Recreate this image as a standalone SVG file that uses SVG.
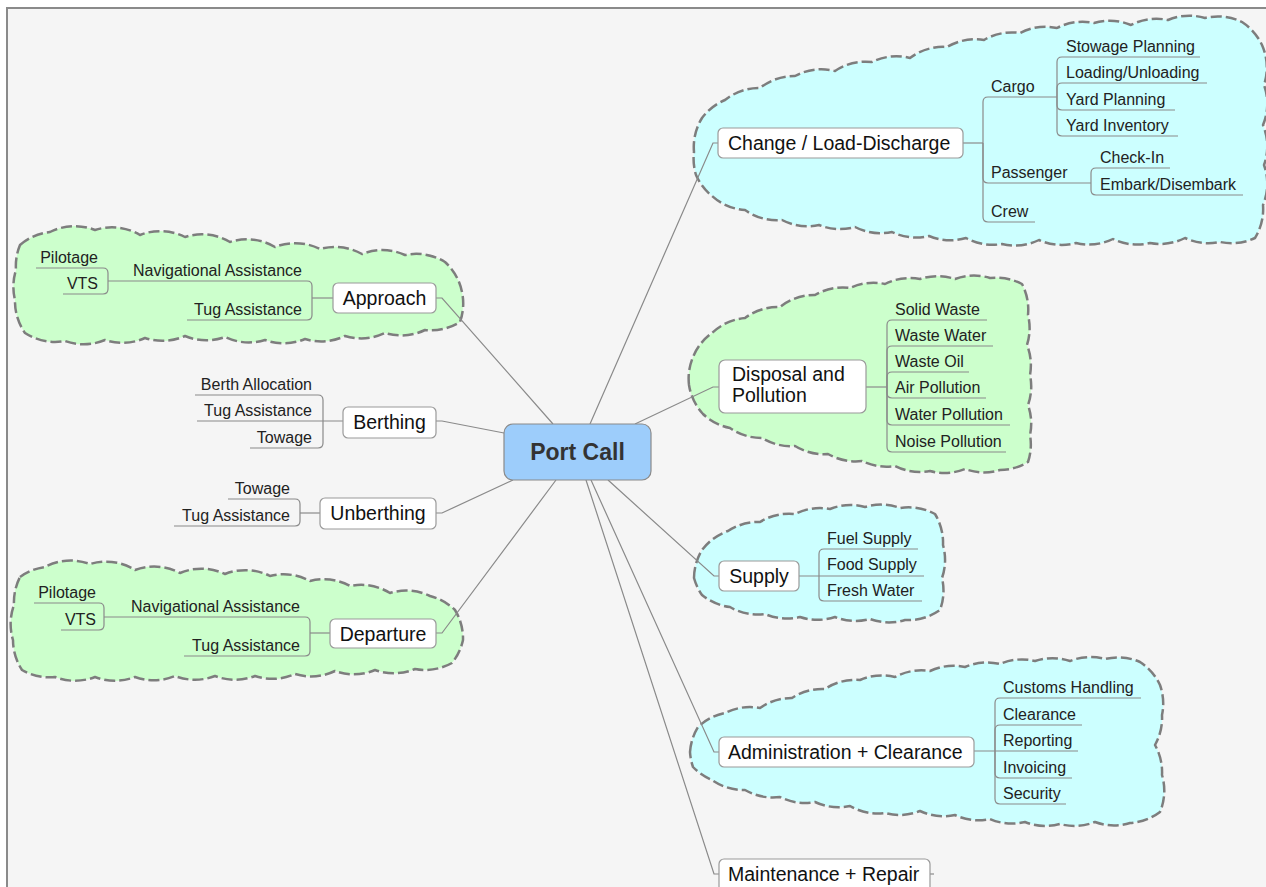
<svg xmlns="http://www.w3.org/2000/svg" width="1266" height="887" viewBox="0 0 1266 887">
  <style>
    .cloud { stroke: #7d7d7d; stroke-width: 2.5; stroke-dasharray: 11 4; stroke-linejoin: round; }
    .green { fill: #ccffcc; }
    .cyan { fill: #ccffff; }
    .link { fill: none; stroke: #8a8a8a; stroke-width: 1.2; }
    .box { fill: #ffffff; stroke: #9a9a9a; stroke-width: 1.2; }
    .root-box { fill: #9dcdfb; stroke: #8a8a8a; stroke-width: 1.2; }
    .main { font-family: "Liberation Sans", Arial, sans-serif; font-size: 19.5px; fill: #111; }
    .mid { text-anchor: middle; }
    .sub { font-family: "Liberation Sans", Arial, sans-serif; font-size: 16px; fill: #222; }
    .left { text-anchor: end; }
    .root { font-family: "Liberation Sans", Arial, sans-serif; font-size: 23px; font-weight: bold; fill: #333; text-anchor: middle; }
  </style>

  <!-- canvas and frame -->
  <rect x="0" y="0" width="1266" height="887" fill="#ffffff"/>
  <rect x="7" y="8" width="1270" height="890" fill="#f5f5f5" stroke="#8a8a8a" stroke-width="2"/>

  <!-- boundary clouds -->
  <g id="boundaries">
    <path id="cloud-approach" class="cloud green" d="M20,245 A55,55 0 0 1 50,232 A55,55 0 0 1 95,230 A55,55 0 0 1 140,235 A55,55 0 0 1 185,237 A55,55 0 0 1 230,242 A55,55 0 0 1 275,247 A55,55 0 0 1 320,249 A55,55 0 0 1 362,254 A55,55 0 0 1 405,255 A55,55 0 0 1 445,262 A55,55 0 0 1 462,292 A55,55 0 0 1 460,322 A55,55 0 0 1 425,330 A55,55 0 0 1 385,333 A55,55 0 0 1 345,336 A55,55 0 0 1 305,339 A55,55 0 0 1 265,340 A55,55 0 0 1 225,337 A55,55 0 0 1 185,336 A55,55 0 0 1 145,338 A55,55 0 0 1 105,340 A55,55 0 0 1 65,341 A55,55 0 0 1 25,333 A55,55 0 0 1 15,300 A55,55 0 0 1 16,270 A55,55 0 0 1 20,245 Z"/>
    <path id="cloud-departure" class="cloud green" d="M20,577 A55,55 0 0 1 45,567 A55,55 0 0 1 90,564 A55,55 0 0 1 135,570 A55,55 0 0 1 180,573 A55,55 0 0 1 225,574 A55,55 0 0 1 270,576 A55,55 0 0 1 310,581 A55,55 0 0 1 350,586 A55,55 0 0 1 390,593 A55,55 0 0 1 430,596 A55,55 0 0 1 455,610 A55,55 0 0 1 463,640 A55,55 0 0 1 452,663 A55,55 0 0 1 415,669 A55,55 0 0 1 375,670 A55,55 0 0 1 335,671 A55,55 0 0 1 295,674 A55,55 0 0 1 255,676 A55,55 0 0 1 215,676 A55,55 0 0 1 175,676 A55,55 0 0 1 135,677 A55,55 0 0 1 95,677 A55,55 0 0 1 55,677 A55,55 0 0 1 22,670 A55,55 0 0 1 13,640 A55,55 0 0 1 14,605 A55,55 0 0 1 20,577 Z"/>
    <path id="cloud-change" class="cloud cyan" d="M694,152 A55,55 0 0 1 702,118 A55,55 0 0 1 725,100 A55,55 0 0 1 760,88 A55,55 0 0 1 795,76 A55,55 0 0 1 835,71 A55,55 0 0 1 872,62 A55,55 0 0 1 910,58 A55,55 0 0 1 947,47 A55,55 0 0 1 984,40 A55,55 0 0 1 1020,33 A55,55 0 0 1 1057,28 A55,55 0 0 1 1094,23 A55,55 0 0 1 1131,25 A55,55 0 0 1 1168,20 A55,55 0 0 1 1205,18 A55,55 0 0 1 1242,22 A55,55 0 0 1 1262,45 A55,55 0 0 1 1264,85 A55,55 0 0 1 1263,125 A55,55 0 0 1 1264,165 A55,55 0 0 1 1263,205 A55,55 0 0 1 1255,238 A55,55 0 0 1 1220,242 A55,55 0 0 1 1185,238 A55,55 0 0 1 1150,243 A55,55 0 0 1 1113,239 A55,55 0 0 1 1076,243 A55,55 0 0 1 1039,240 A55,55 0 0 1 1002,244 A55,55 0 0 1 966,238 A55,55 0 0 1 929,236 A55,55 0 0 1 892,232 A55,55 0 0 1 855,227 A55,55 0 0 1 819,225 A55,55 0 0 1 782,220 A55,55 0 0 1 745,210 A55,55 0 0 1 712,196 A55,55 0 0 1 696,175 A55,55 0 0 1 694,152 Z"/>
    <path id="cloud-disposal" class="cloud green" d="M689,385 A55,55 0 0 1 693,357 A55,55 0 0 1 712,333 A55,55 0 0 1 745,318 A55,55 0 0 1 780,307 A55,55 0 0 1 815,295 A55,55 0 0 1 850,288 A55,55 0 0 1 885,284 A55,55 0 0 1 920,279 A55,55 0 0 1 955,279 A55,55 0 0 1 990,278 A55,55 0 0 1 1022,284 A55,55 0 0 1 1028,315 A55,55 0 0 1 1027,345 A55,55 0 0 1 1030,375 A55,55 0 0 1 1028,405 A55,55 0 0 1 1030,435 A55,55 0 0 1 1028,462 A55,55 0 0 1 1000,470 A55,55 0 0 1 965,469 A55,55 0 0 1 930,471 A55,55 0 0 1 895,466 A55,55 0 0 1 862,461 A55,55 0 0 1 828,454 A55,55 0 0 1 795,446 A55,55 0 0 1 762,438 A55,55 0 0 1 730,428 A55,55 0 0 1 703,414 A55,55 0 0 1 689,385 Z"/>
    <path id="cloud-supply" class="cloud cyan" d="M694,578 A55,55 0 0 1 702,550 A55,55 0 0 1 728,531 A55,55 0 0 1 760,522 A55,55 0 0 1 795,514 A55,55 0 0 1 830,509 A55,55 0 0 1 865,507 A55,55 0 0 1 900,508 A55,55 0 0 1 935,514 A55,55 0 0 1 943,545 A55,55 0 0 1 942,578 A55,55 0 0 1 940,610 A55,55 0 0 1 905,620 A55,55 0 0 1 870,619 A55,55 0 0 1 835,617 A55,55 0 0 1 800,617 A55,55 0 0 1 765,614 A55,55 0 0 1 730,607 A55,55 0 0 1 702,595 A55,55 0 0 1 694,578 Z"/>
    <path id="cloud-admin" class="cloud cyan" d="M690,752 A55,55 0 0 1 698,727 A55,55 0 0 1 725,713 A55,55 0 0 1 760,708 A55,55 0 0 1 792,698 A55,55 0 0 1 825,689 A55,55 0 0 1 860,680 A55,55 0 0 1 895,677 A55,55 0 0 1 930,671 A55,55 0 0 1 965,667 A55,55 0 0 1 1000,664 A55,55 0 0 1 1035,661 A55,55 0 0 1 1070,661 A55,55 0 0 1 1105,659 A55,55 0 0 1 1140,662 A55,55 0 0 1 1160,685 A55,55 0 0 1 1162,715 A55,55 0 0 1 1155,745 A55,55 0 0 1 1162,775 A55,55 0 0 1 1160,812 A55,55 0 0 1 1130,823 A55,55 0 0 1 1095,822 A55,55 0 0 1 1060,824 A55,55 0 0 1 1025,822 A55,55 0 0 1 990,819 A55,55 0 0 1 955,815 A55,55 0 0 1 920,811 A55,55 0 0 1 885,813 A55,55 0 0 1 850,806 A55,55 0 0 1 815,802 A55,55 0 0 1 780,797 A55,55 0 0 1 745,790 A55,55 0 0 1 712,780 A55,55 0 0 1 693,767 A55,55 0 0 1 690,752 Z"/>
  </g>

  <!-- connectors -->
  <g id="connectors" class="link">
    <!-- central topic to main topics -->
    <path d="M553,424L442,298H436"/>
    <path d="M504,433L442,421H436"/>
    <path d="M513,480L442,513H436"/>
    <path d="M556,480L442,633H436"/>
    <path d="M590,424L713,143H718"/>
    <path d="M635,424L713,387H719"/>
    <path d="M608,480L714,576H719"/>
    <path d="M591,480L714,752H719"/>
    <path d="M586,480L714,874H719"/>

    <!-- Change / Load-Discharge -->
    <path d="M963,143H983"/>
    <path d="M983,143V102Q983,97 988,97H1057"/>
    <path d="M983,143V178Q983,183 988,183H1091"/>
    <path d="M983,143V217Q983,222 988,222H1035"/>
    <path d="M1057,97V62Q1057,57 1062,57H1200"/>
    <path d="M1057,97V88Q1057,83 1062,83H1207"/>
    <path d="M1057,97V105Q1057,110 1062,110H1175"/>
    <path d="M1057,97V131Q1057,136 1062,136H1178"/>
    <path d="M1091,183V173Q1091,168 1096,168H1170"/>
    <path d="M1091,183V190Q1091,195 1096,195H1243"/>

    <!-- Disposal and Pollution -->
    <path d="M866,387H887"/>
    <path d="M887,387V325Q887,320 892,320H987"/>
    <path d="M887,387V351Q887,346 892,346H993"/>
    <path d="M887,387V377Q887,372 892,372H969"/>
    <path d="M887,387V393Q887,398 892,398H986"/>
    <path d="M887,387V420Q887,425 892,425H1010"/>
    <path d="M887,387V447Q887,452 892,452H1006"/>

    <!-- Supply -->
    <path d="M799,576H924"/>
    <path d="M819,576V554Q819,549 824,549H918"/>
    <path d="M819,576V596Q819,601 824,601H922"/>

    <!-- Administration + Clearance -->
    <path d="M974,751H1078"/>
    <path d="M995,751V703Q995,698 1000,698H1141"/>
    <path d="M995,751V730Q995,725 1000,725H1082"/>
    <path d="M995,751V773Q995,778 1000,778H1072"/>
    <path d="M995,751V799Q995,804 1000,804H1066"/>

    <!-- Maintenance + Repair -->
    <path d="M930,874H934"/>

    <!-- Approach -->
    <path d="M333,298H312"/>
    <path d="M312,298V286Q312,281 307,281H108"/>
    <path d="M312,298V315Q312,320 307,320H187"/>
    <path d="M108,281V273Q108,268 103,268H36"/>
    <path d="M108,281V289Q108,294 103,294H63"/>

    <!-- Berthing -->
    <path d="M343,421H197"/>
    <path d="M323,421V400Q323,395 318,395H195"/>
    <path d="M323,421V443Q323,448 318,448H250"/>

    <!-- Unberthing -->
    <path d="M320,513H300"/>
    <path d="M300,513V504Q300,499 295,499H228"/>
    <path d="M300,513V521Q300,526 295,526H174"/>

    <!-- Departure -->
    <path d="M330,633H310"/>
    <path d="M310,633V622Q310,617 305,617H104"/>
    <path d="M310,633V651Q310,656 305,656H184"/>
    <path d="M104,617V608Q104,603 99,603H34"/>
    <path d="M104,617V625Q104,630 99,630H61"/>
  </g>

  <!-- central topic -->
  <g id="port-call">
    <rect class="root-box" x="504" y="424" width="147" height="56" rx="9"/>
    <text class="root" x="577.5" y="460">Port Call</text>
  </g>

  <!-- main topics -->
  <g id="change">
    <rect class="box" x="718" y="128" width="245" height="30" rx="5"/>
    <text class="main" x="728" y="150">Change / Load-Discharge</text>
  </g>
  <g id="disposal">
    <rect class="box" x="719" y="360" width="147" height="53" rx="6"/>
    <text class="main" x="732" y="381">Disposal and</text>
    <text class="main" x="732" y="402">Pollution</text>
  </g>
  <g id="supply">
    <rect class="box" x="719" y="561" width="80" height="30" rx="5"/>
    <text class="main mid" x="759" y="583">Supply</text>
  </g>
  <g id="administration">
    <rect class="box" x="719" y="737" width="255" height="30" rx="5"/>
    <text class="main" x="728" y="759">Administration + Clearance</text>
  </g>
  <g id="maintenance">
    <rect class="box" x="719" y="859" width="211" height="34" rx="5"/>
    <text class="main" x="728" y="881">Maintenance + Repair</text>
  </g>
  <g id="approach">
    <rect class="box" x="333" y="283" width="103" height="30" rx="5"/>
    <text class="main mid" x="384.5" y="305">Approach</text>
  </g>
  <g id="berthing">
    <rect class="box" x="343" y="407" width="93" height="31" rx="5"/>
    <text class="main mid" x="389.5" y="429">Berthing</text>
  </g>
  <g id="unberthing">
    <rect class="box" x="320" y="498" width="116" height="31" rx="5"/>
    <text class="main mid" x="378" y="520">Unberthing</text>
  </g>
  <g id="departure">
    <rect class="box" x="330" y="619" width="106" height="29" rx="5"/>
    <text class="main mid" x="383" y="641">Departure</text>
  </g>

  <!-- subtopics: Change / Load-Discharge -->
  <g id="cargo"><text class="sub" x="991" y="92">Cargo</text></g>
  <g id="passenger"><text class="sub" x="991" y="178">Passenger</text></g>
  <g id="crew"><text class="sub" x="991" y="217">Crew</text></g>
  <g id="stowage-planning"><text class="sub" x="1066" y="52">Stowage Planning</text></g>
  <g id="loading-unloading"><text class="sub" x="1066" y="78">Loading/Unloading</text></g>
  <g id="yard-planning"><text class="sub" x="1066" y="105">Yard Planning</text></g>
  <g id="yard-inventory"><text class="sub" x="1066" y="131">Yard Inventory</text></g>
  <g id="check-in"><text class="sub" x="1100" y="163">Check-In</text></g>
  <g id="embark-disembark"><text class="sub" x="1100" y="190">Embark/Disembark</text></g>

  <!-- subtopics: Disposal and Pollution -->
  <g id="solid-waste"><text class="sub" x="895" y="315">Solid Waste</text></g>
  <g id="waste-water"><text class="sub" x="895" y="341">Waste Water</text></g>
  <g id="waste-oil"><text class="sub" x="895" y="367">Waste Oil</text></g>
  <g id="air-pollution"><text class="sub" x="895" y="393">Air Pollution</text></g>
  <g id="water-pollution"><text class="sub" x="895" y="420">Water Pollution</text></g>
  <g id="noise-pollution"><text class="sub" x="895" y="447">Noise Pollution</text></g>

  <!-- subtopics: Supply -->
  <g id="fuel-supply"><text class="sub" x="827" y="544">Fuel Supply</text></g>
  <g id="food-supply"><text class="sub" x="827" y="570">Food Supply</text></g>
  <g id="fresh-water"><text class="sub" x="827" y="596">Fresh Water</text></g>

  <!-- subtopics: Administration + Clearance -->
  <g id="customs-handling"><text class="sub" x="1003" y="693">Customs Handling</text></g>
  <g id="clearance"><text class="sub" x="1003" y="720">Clearance</text></g>
  <g id="reporting"><text class="sub" x="1003" y="746">Reporting</text></g>
  <g id="invoicing"><text class="sub" x="1003" y="773">Invoicing</text></g>
  <g id="security"><text class="sub" x="1003" y="799">Security</text></g>

  <!-- subtopics: Approach -->
  <g id="approach-nav"><text class="sub left" x="302" y="276">Navigational Assistance</text></g>
  <g id="approach-tug"><text class="sub left" x="302" y="315">Tug Assistance</text></g>
  <g id="approach-pilotage"><text class="sub left" x="98" y="263">Pilotage</text></g>
  <g id="approach-vts"><text class="sub left" x="98" y="289">VTS</text></g>

  <!-- subtopics: Berthing -->
  <g id="berth-allocation"><text class="sub left" x="312" y="390">Berth Allocation</text></g>
  <g id="berthing-tug"><text class="sub left" x="312" y="416">Tug Assistance</text></g>
  <g id="berthing-towage"><text class="sub left" x="312" y="443">Towage</text></g>

  <!-- subtopics: Unberthing -->
  <g id="unberthing-towage"><text class="sub left" x="290" y="494">Towage</text></g>
  <g id="unberthing-tug"><text class="sub left" x="290" y="521">Tug Assistance</text></g>

  <!-- subtopics: Departure -->
  <g id="departure-nav"><text class="sub left" x="300" y="612">Navigational Assistance</text></g>
  <g id="departure-tug"><text class="sub left" x="300" y="651">Tug Assistance</text></g>
  <g id="departure-pilotage"><text class="sub left" x="96" y="598">Pilotage</text></g>
  <g id="departure-vts"><text class="sub left" x="96" y="625">VTS</text></g>
</svg>
